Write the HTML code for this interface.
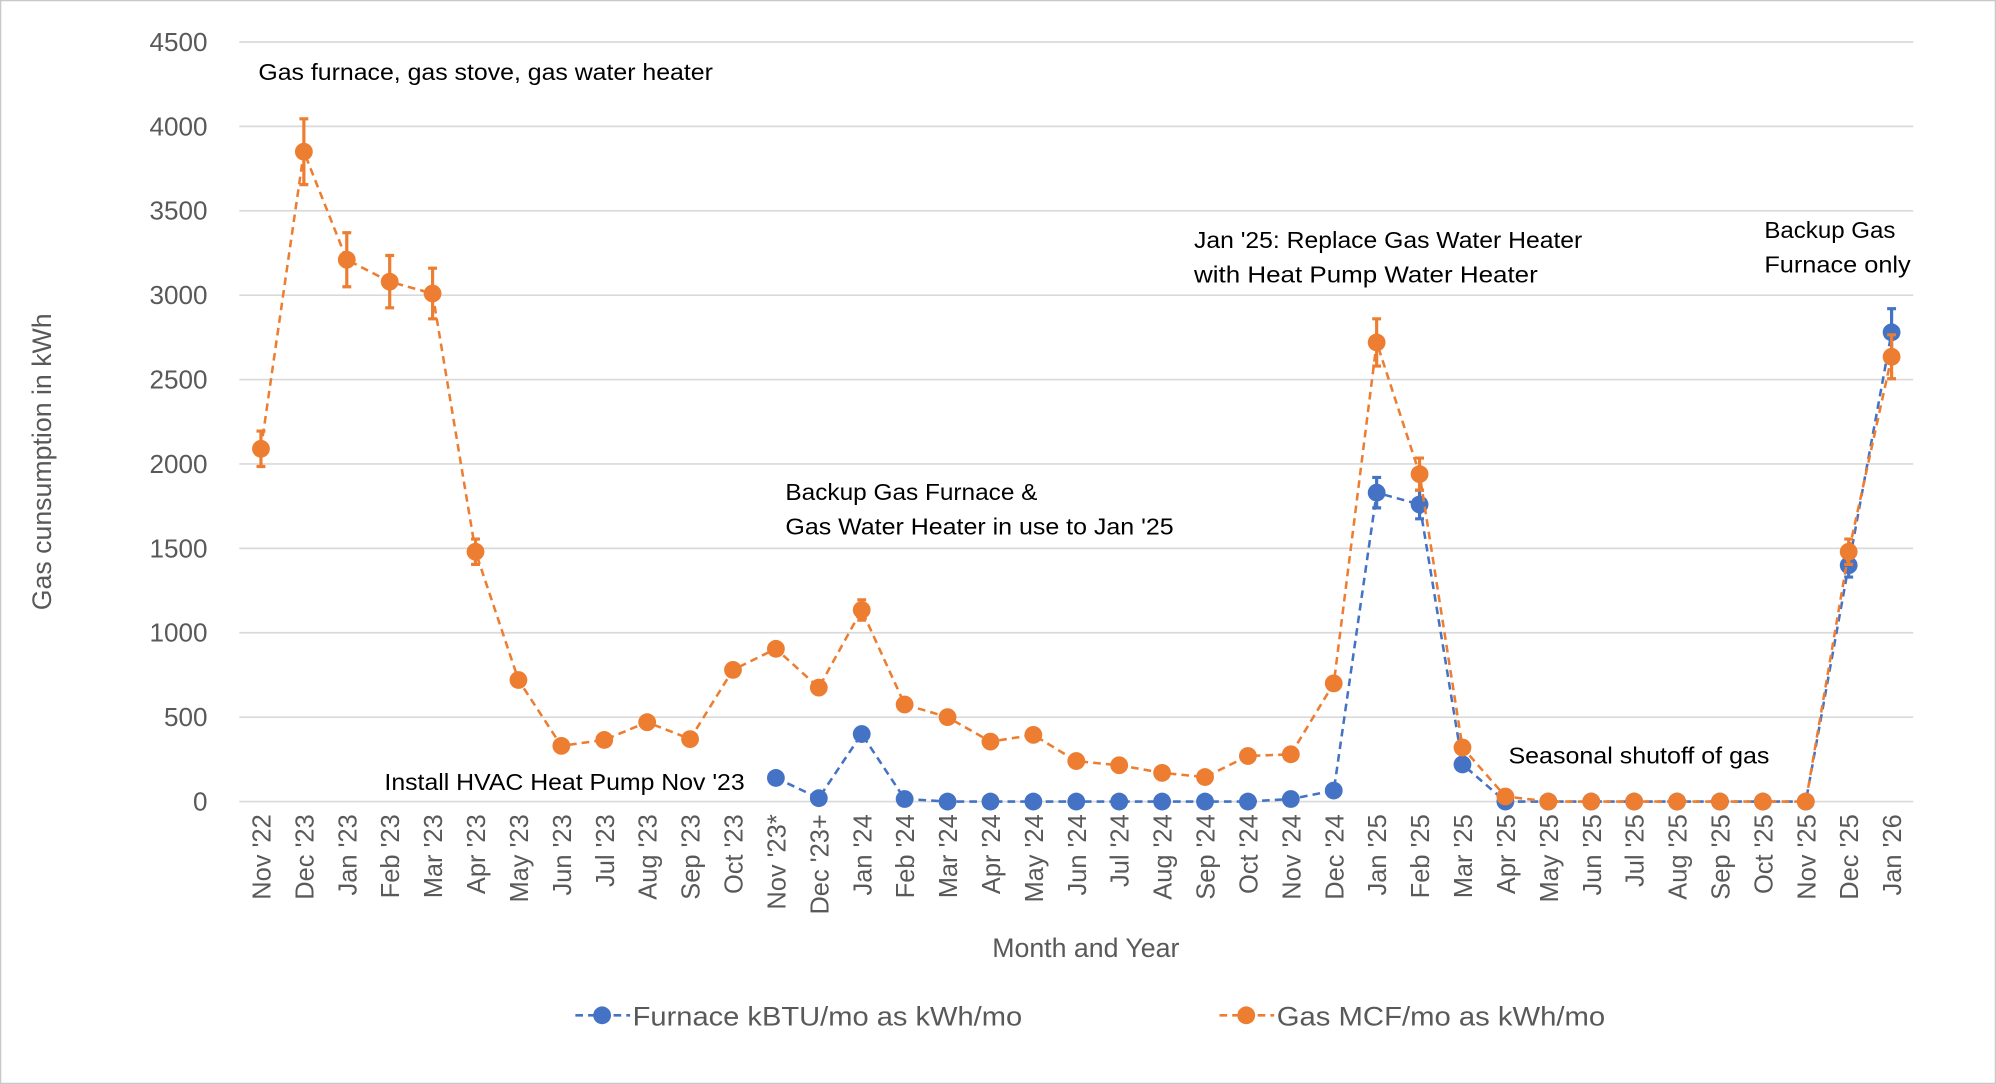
<!DOCTYPE html>
<html><head><meta charset="utf-8"><style>html,body{margin:0;padding:0;background:#fff}svg{display:block}</style></head>
<body>
<svg id="s" width="1996" height="1084" viewBox="0 0 1568 852" preserveAspectRatio="none" xmlns="http://www.w3.org/2000/svg" font-family="Liberation Sans, sans-serif"></svg>
<script>
var s=document.getElementById('s');var h='';
h+='<rect x="0.5" y="0.5" width="1567" height="851" fill="#fff" stroke="#c8c8c8" stroke-width="1"/>';
function Y(v){return 630-v*597/4500;}
function X(i){return 205+i*33.71;}
for(var k=0;k<=9;k++){var y=Y(k*500);h+='<line x1="188" x2="1503" y1="'+y+'" y2="'+y+'" stroke="#d9d9d9" stroke-width="1.3"/>';
h+='<text x="163" y="'+(y+7)+'" font-size="20.5" fill="#595959" text-anchor="end">'+(k*500)+'</text>';}
var labs=["Nov '22","Dec '23","Jan '23","Feb '23","Mar '23","Apr '23","May '23","Jun '23","Jul '23","Aug '23","Sep '23","Oct '23","Nov '23*","Dec '23+","Jan '24","Feb '24","Mar '24","Apr '24","May '24","Jun '24","Jul '24","Aug '24","Sep '24","Oct '24","Nov '24","Dec '24","Jan '25","Feb '25","Mar '25","Apr '25","May '25","Jun '25","Jul '25","Aug '25","Sep '25","Oct '25","Nov '25","Dec '25","Jan '26"];
for(var i=0;i<labs.length;i++){h+='<text transform="translate('+(X(i)+7.5)+',640) rotate(-90)" font-size="20" fill="#595959" text-anchor="end">'+labs[i]+'</text>';}
var O=[2090,3850,3210,3080,3010,1480,720,330,365,470,370,780,905,675,1135,575,500,355,395,240,215,170,145,270,280,700,2720,1940,320,30,0,0,0,0,0,0,0,1480,2635];
var B=[null,null,null,null,null,null,null,null,null,null,null,null,140,20,400,15,0,0,0,0,0,0,0,0,15,65,1830,1760,220,0,0,0,0,0,0,0,0,1400,2780];
var Oe={0:105,1:195,2:160,3:155,4:150,5:75,14:60,26:140,27:95,37:75,38:130};
var Be={26:90,27:85,37:70,38:140};
function series(d,e,c){var p='';for(var i=0;i<d.length;i++){if(d[i]==null)continue;p+=(p?'L':'M')+X(i).toFixed(1)+' '+Y(d[i]).toFixed(1);}
h+='<path d="'+p+'" fill="none" stroke="'+c+'" stroke-width="2" stroke-dasharray="6,4"/>';
for(var k in e){var x=X(+k),y1=Y(d[k]+e[k]),y2=Y(d[k]-e[k]);h+='<path d="M'+x+' '+y1+'V'+y2+'M'+(x-3.5)+' '+y1+'h7M'+(x-3.5)+' '+y2+'h7" stroke="'+c+'" stroke-width="2.5" fill="none"/>';}
for(var i=0;i<d.length;i++){if(d[i]==null)continue;h+='<circle cx="'+X(i)+'" cy="'+Y(d[i])+'" r="7" fill="'+c+'"/>';}}
series(B,Be,'#4472c4');series(O,Oe,'#ed7d31');
function t(x,y,str,w){h+='<text x="'+x+'" y="'+y+'" font-size="18.5" fill="#000" textLength="'+w+'" lengthAdjust="spacingAndGlyphs">'+str+'</text>';}
t(203,63,"Gas furnace, gas stove, gas water heater",357);
t(938,195,"Jan '25: Replace Gas Water Heater",305);
t(938,222,"with Heat Pump Water Heater",270);
t(1386,187,"Backup Gas",103);
t(1386,214,"Furnace only",115);
t(617,393,"Backup Gas Furnace &amp;",198);
t(617,420,"Gas Water Heater in use to Jan '25",305);
t(302,621,"Install HVAC Heat Pump Nov '23",283);
t(1185,600,"Seasonal shutoff of gas",205);
h+='<text x="853" y="752" font-size="21" fill="#595959" text-anchor="middle">Month and Year</text>';
h+='<text transform="translate(40,363) rotate(-90)" font-size="21" fill="#595959" text-anchor="middle">Gas cunsumption in kWh</text>';
h+='<line x1="452" x2="495" y1="798" y2="798" stroke="#4472c4" stroke-width="2" stroke-dasharray="6,4"/><circle cx="473" cy="798" r="7" fill="#4472c4"/>';
h+='<text x="497" y="806" font-size="21" fill="#595959" textLength="306" lengthAdjust="spacingAndGlyphs">Furnace kBTU/mo as kWh/mo</text>';
h+='<line x1="958" x2="1001" y1="798" y2="798" stroke="#ed7d31" stroke-width="2" stroke-dasharray="6,4"/><circle cx="979" cy="798" r="7" fill="#ed7d31"/>';
h+='<text x="1003" y="806" font-size="21" fill="#595959" textLength="258" lengthAdjust="spacingAndGlyphs">Gas MCF/mo as kWh/mo</text>';
s.innerHTML=h;
</script>
</body></html>
